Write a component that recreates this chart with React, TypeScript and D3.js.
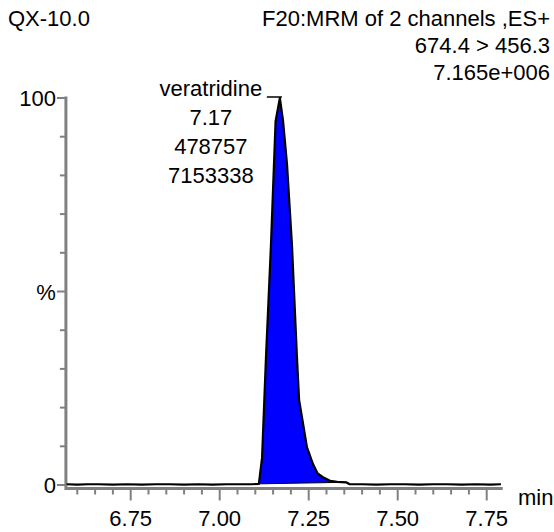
import React from "react";
import * as d3 from "d3";

// Chromatogram trace: retention time (min) and relative intensity (%)
const times = [
  6.57, 6.6, 6.63, 6.66, 6.7, 6.74, 6.78, 6.82, 6.86, 6.9, 6.94, 6.98, 7.02, 7.06, 7.09,
  7.11, 7.119, 7.13, 7.144, 7.157, 7.169, 7.178, 7.189, 7.203, 7.217, 7.223, 7.231, 7.245,
  7.262, 7.275, 7.29, 7.31, 7.33, 7.355, 7.365,
  7.4, 7.44, 7.48, 7.52, 7.56, 7.6, 7.64, 7.68, 7.72, 7.76, 7.79,
];
const intensity = [
  0.2, 0.1, 0.2, 0.2, 0.1, 0.2, 0.1, 0.2, 0.2, 0.1, 0.2, 0.1, 0.2, 0.2, 0.2,
  0.3, 7, 33, 62, 94, 100, 94, 83, 62, 33, 22, 17.6, 9.8,
  5.4, 3.0, 2.0, 1.1, 0.8, 0.7, 0.2,
  0.2, 0.1, 0.2, 0.2, 0.1, 0.2, 0.2, 0.1, 0.2, 0.1, 0.2,
];

// Integrated peak: start/end of the integration window
const peakStart = 7.11;
const peakEnd = 7.355;

// Peak annotation
const peakName = "veratridine";
const peakRT = "7.17";
const peakArea = "478757";
const peakHeight = "7153338";
const peakTime = 7.169;

// Header texts
const sampleName = "QX-10.0";
const headerLines = ["F20:MRM of 2 channels ,ES+", "674.4 > 456.3", "7.165e+006"];

// Axis ticks
const xMajorTicks = [6.75, 7.0, 7.25, 7.5, 7.75];
const xMinorTicks = [
  6.6, 6.65, 6.7, 6.8, 6.85, 6.9, 6.95, 7.05, 7.1, 7.15, 7.2, 7.3, 7.35, 7.4, 7.45,
  7.55, 7.6, 7.65, 7.7,
];
const yMinorTicks = [10, 20, 30, 40, 60, 70, 80, 90];

const W = 554;
const H = 532;
const FONT = "'Liberation Sans', Arial, sans-serif";
const FS = 22;
const AXIS = "#808080";

export default function App() {
  const x = d3.scaleLinear().domain([6.75, 7.75]).range([130.7, 486.7]);
  const y = d3.scaleLinear().domain([0, 100]).range([485, 98]);
  const axisLeft = x(6.568);
  const axisRight = x(7.795);
  const axisY = 488.5;

  const pts: [number, number][] = times.map((t, i) => [t, intensity[i]]);
  const line = d3
    .line<[number, number]>()
    .x((d) => x(d[0]))
    .y((d) => y(d[1]));

  // fill between the trace and the straight integration baseline
  const inPeak = pts.filter((d) => d[0] >= peakStart && d[0] <= peakEnd);
  const bStart = pts.find((d) => d[0] === peakStart)![1];
  const bEnd = pts.find((d) => d[0] === peakEnd)![1];
  const fillPts: [number, number][] = [...inPeak, [peakEnd, bEnd], [peakStart, bStart]];
  const fillPath = line(fillPts) + "Z";

  const px = x(peakTime);
  const labelX = px - 69;
  const labelY = [96, 125, 154, 183];

  return (
    <svg
      width={W}
      height={H}
      style={{ position: "absolute", left: 0, top: 0, background: "#fff" }}
      fontFamily={FONT}
      fontSize={FS}
    >
      <rect width={W} height={H} fill="#fff" />

      {/* header */}
      <text x={8} y={26} fill="#000">
        {sampleName}
      </text>
      {headerLines.map((s, i) => (
        <text key={s} x={550} y={26 + i * 27} textAnchor="end" fill="#000">
          {s}
        </text>
      ))}

      {/* y axis */}
      <line x1={axisLeft} x2={axisLeft} y1={y(100) - 1.5} y2={axisY + 1.5} stroke={AXIS} strokeWidth={3} />
      <line x1={axisLeft - 9} x2={axisLeft} y1={y(100)} y2={y(100)} stroke={AXIS} strokeWidth={2} />
      <line x1={axisLeft - 9} x2={axisLeft} y1={y(50)} y2={y(50)} stroke={AXIS} strokeWidth={2} />
      <line x1={axisLeft - 9} x2={axisLeft} y1={y(0)} y2={y(0)} stroke={AXIS} strokeWidth={2} />
      {yMinorTicks.map((v) => (
        <line key={v} x1={axisLeft - 6} x2={axisLeft} y1={y(v)} y2={y(v)} stroke={AXIS} strokeWidth={2} />
      ))}
      <text x={axisLeft - 10} y={y(100) + 8} textAnchor="end">100</text>
      <text x={axisLeft - 10} y={y(50) + 8} textAnchor="end">%</text>
      <text x={axisLeft - 10} y={y(0) + 8} textAnchor="end">0</text>

      {/* x axis */}
      <line x1={axisLeft} x2={axisRight} y1={axisY} y2={axisY} stroke={AXIS} strokeWidth={3} />
      {xMajorTicks.map((t) => (
        <g key={t}>
          <line x1={x(t)} x2={x(t)} y1={axisY} y2={axisY + 12} stroke={AXIS} strokeWidth={2} />
          <text x={x(t)} y={526} textAnchor="middle">
            {d3.format(".2f")(t)}
          </text>
        </g>
      ))}
      {xMinorTicks.map((t) => (
        <line key={t} x1={x(t)} x2={x(t)} y1={axisY} y2={axisY + 6} stroke={AXIS} strokeWidth={2} />
      ))}
      <text x={518} y={505}>min</text>

      {/* integrated peak */}
      <path d={fillPath} fill="#0000ff" stroke="none" />
      <line
        x1={x(peakStart)}
        x2={x(peakEnd)}
        y1={y(bStart)}
        y2={y(bEnd)}
        stroke="#000"
        strokeWidth={1}
      />
      {/* trace */}
      <path d={line(pts) ?? ""} fill="none" stroke="#000" strokeWidth={2.2} strokeLinejoin="round" />

      {/* peak label */}
      <text x={labelX} y={labelY[0]} textAnchor="middle">{peakName}</text>
      <line x1={labelX + 56} x2={px + 2} y1={97} y2={97} stroke="#000" strokeWidth={1.5} />
      <text x={labelX} y={labelY[1]} textAnchor="middle">{peakRT}</text>
      <text x={labelX} y={labelY[2]} textAnchor="middle">{peakArea}</text>
      <text x={labelX} y={labelY[3]} textAnchor="middle">{peakHeight}</text>
    </svg>
  );
}
